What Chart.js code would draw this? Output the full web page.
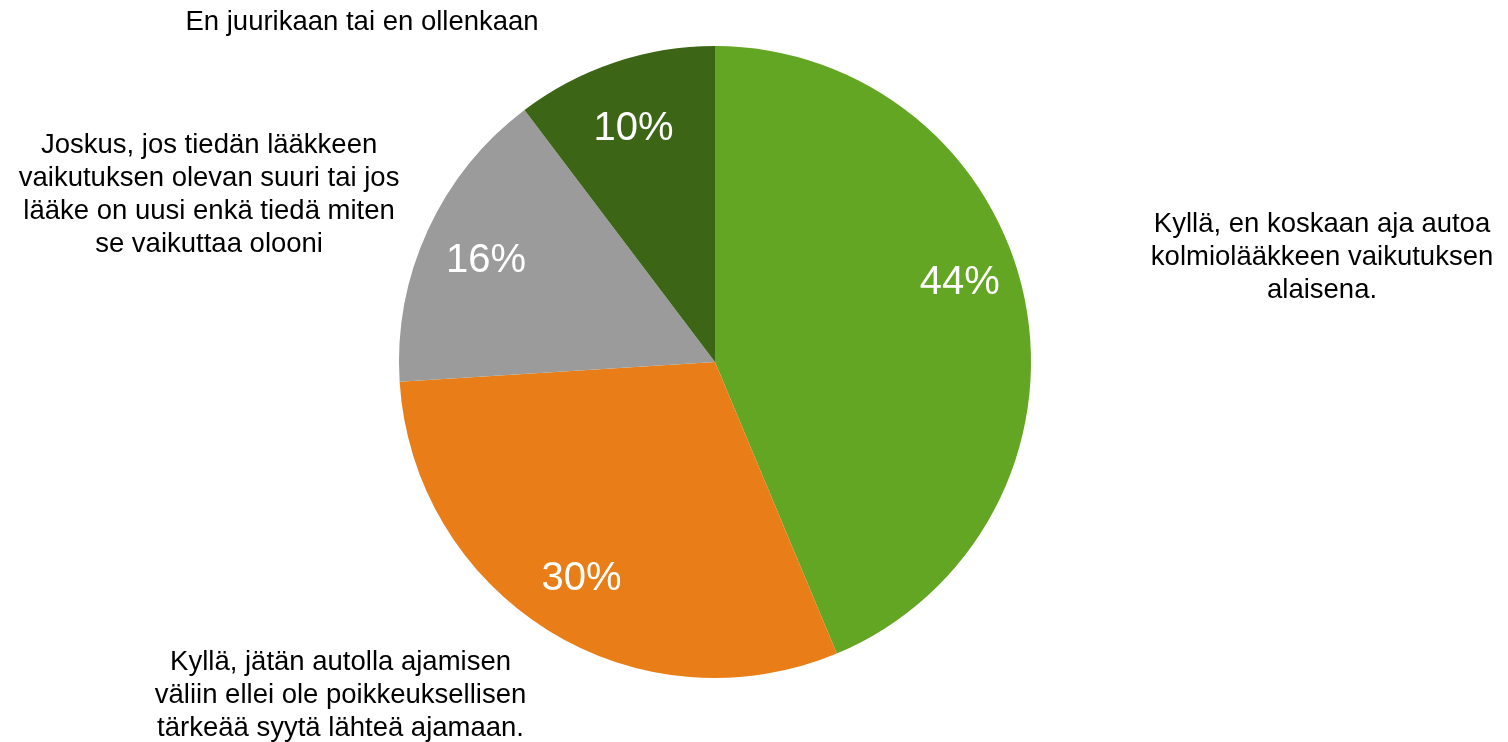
<!DOCTYPE html>
<html>
<head>
<meta charset="utf-8">
<script src="https://cdn.jsdelivr.net/npm/chart.js@4/dist/chart.umd.min.js"></script>
<style>
  html, body { margin: 0; padding: 0; background: #ffffff; }
  #wrap { width: 1508px; height: 742px; position: relative; }
</style>
</head>
<body>
<div id="wrap"><canvas id="c" width="1508" height="742"></canvas></div>
<script>
// ---- Data ----
const categories = [
  ["Kyllä, en koskaan aja autoa", "kolmiolääkkeen vaikutuksen", "alaisena."],
  ["Kyllä, jätän autolla ajamisen", "väliin ellei ole poikkeuksellisen", "tärkeää syytä lähteä ajamaan."],
  ["Joskus, jos tiedän lääkkeen", "vaikutuksen olevan suuri tai jos", "lääke on uusi enkä tiedä miten", "se vaikuttaa olooni"],
  ["En juurikaan tai en ollenkaan"]
];
const shares = [43.7, 30.3, 15.7, 10.3];
const sliceColors = ["#63A623", "#E97E18", "#9B9B9B", "#3C6516"];

// ---- Layout (label anchors relative to pie centre, in radius units) ----
const categoryAnchors = [
  { x: 1.921, y: -0.332 },
  { x: -1.185, y: 1.054 },
  { x: -1.601, y: -0.528 },
  { x: -1.117, y: -1.076 }
];
const pctRadial = [0.816, 0.80, 0.795, 0.79];
const pctAngleShift = [-7.0, 0, -0.4, -0.5];

const labelPlugin = {
  id: 'pieLabels',
  afterDatasetsDraw(chart) {
    const meta = chart.getDatasetMeta(0);
    const ctx = chart.ctx;
    const data = chart.data.datasets[0].data;
    const total = data.reduce((a, b) => a + b, 0);
    ctx.save();
    meta.data.forEach((arc, i) => {
      const p = arc.getProps(['x', 'y', 'startAngle', 'endAngle', 'outerRadius'], true);
      const mid = (p.startAngle + p.endAngle) / 2 + pctAngleShift[i] * Math.PI / 180;
      const r = p.outerRadius * pctRadial[i];
      const px = p.x + Math.cos(mid) * r;
      const py = p.y + Math.sin(mid) * r + 2.5;
      ctx.fillStyle = '#ffffff';
      ctx.font = '40px "Liberation Sans", Arial, sans-serif';
      ctx.textAlign = 'center';
      ctx.textBaseline = 'middle';
      ctx.fillText(Math.round(data[i] / total * 100) + '%', px, py);

      // category label
      const lines = chart.data.labels[i];
      const a = categoryAnchors[i];
      const cx = p.x + a.x * p.outerRadius;
      const cy = p.y + a.y * p.outerRadius;
      const lh = 33;
      ctx.fillStyle = '#000000';
      ctx.font = '27.5px "Liberation Sans", Arial, sans-serif';
      const startY = cy - (lines.length - 1) * lh / 2;
      lines.forEach((ln, k) => ctx.fillText(ln, cx, startY + k * lh));
    });
    ctx.restore();
  }
};

new Chart(document.getElementById('c'), {
  type: 'pie',
  data: {
    labels: categories,
    datasets: [{
      data: shares,
      backgroundColor: sliceColors,
      borderWidth: 0,
      hoverOffset: 0
    }]
  },
  options: {
    responsive: false,
    animation: false,
    layout: { padding: { top: 46, bottom: 64, left: 0, right: 78 } },
    plugins: {
      legend: { display: false },
      tooltip: { enabled: false }
    }
  },
  plugins: [labelPlugin]
});
</script>
</body>
</html>
